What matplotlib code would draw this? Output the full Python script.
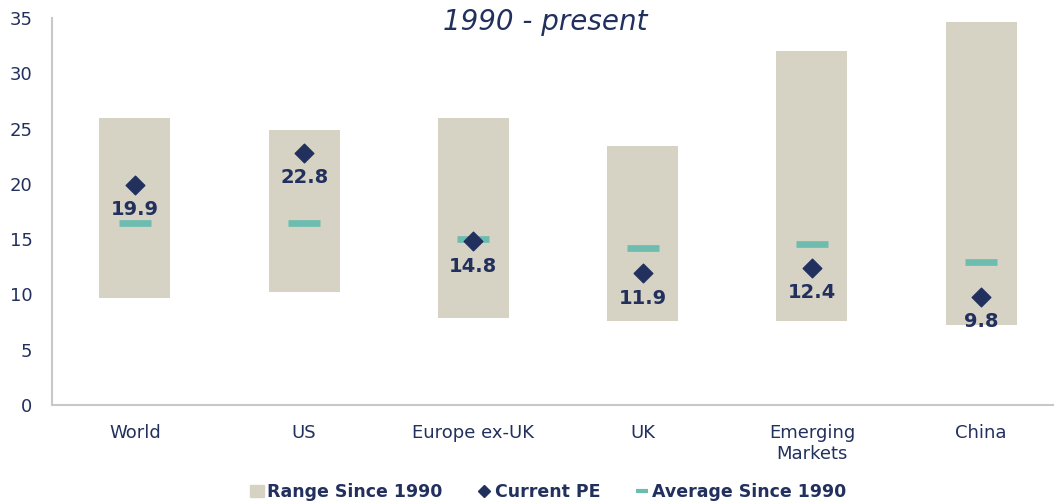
import matplotlib.pyplot as plt
import numpy as np
from matplotlib.lines import Line2D
from matplotlib.patches import Patch

# PE ranges since 1990
regions = ["World", "US", "Europe ex-UK", "UK", "Emerging\nMarkets", "China"]
range_low = [9.7, 10.2, 7.9, 7.6, 7.6, 7.2]
range_high = [26.0, 24.9, 26.0, 23.4, 32.0, 34.6]
current_pe = [19.9, 22.8, 14.8, 11.9, 12.4, 9.8]
average_pe = [16.5, 16.5, 15.0, 14.2, 14.6, 12.9]

navy = "#22305e"
beige = "#d6d3c4"
teal = "#6dbcb0"

plt.rcParams['font.family'] = ['DejaVu Sans']

fig = plt.figure(figsize=(10.54, 5.03), dpi=100)
ax = fig.add_axes([0.0493, 0.1948, 0.9507, 0.7694])

x = np.arange(len(regions))
heights = np.array(range_high) - np.array(range_low)
ax.bar(x, heights, bottom=range_low, width=0.42, color=beige, zorder=1)
ax.scatter(x, current_pe, marker="D", s=90, color=navy, zorder=3)
ax.scatter(x, average_pe, marker="_", s=530, linewidths=4.8, color=teal, zorder=2)

for xi, v in zip(x, current_pe):
    ax.annotate(f"{v:.1f}", (xi, v), xytext=(0, -18), textcoords="offset points",
                ha="center", va="center", fontsize=14, fontweight="bold", color=navy)

ax.set_xlim(-0.49, 5.43)
ax.set_ylim(0, 35)
ax.set_yticks(range(0, 36, 5))
ax.set_xticks(x)
ax.set_xticklabels(regions)
ax.tick_params(axis="both", length=0, labelsize=13, colors=navy)
ax.tick_params(axis="y", pad=14)
ax.tick_params(axis="x", pad=14)
for s in ["top", "right"]:
    ax.spines[s].set_visible(False)
for s in ["left", "bottom"]:
    ax.spines[s].set_color("#c8c8c8")
    ax.spines[s].set_linewidth(1.5)

fig.text(0.517, 0.956, "1990 - present", ha="center", va="center",
         fontsize=20, style="italic", color=navy)

handles = [Patch(color=beige),
           Line2D([], [], marker="D", color=navy, linestyle="none", markersize=6),
           Line2D([], [], marker="_", color=teal, linestyle="none", markersize=9, markeredgewidth=3)]
leg = fig.legend(handles, ["Range Since 1990", "Current PE", "Average Since 1990"],
                 loc="center", bbox_to_anchor=(0.52, 0.022), ncol=3, frameon=False,
                 handlelength=0.8, handletextpad=0.2, columnspacing=2.0,
                 prop={"weight": "bold", "size": 12.5})
for t in leg.get_texts():
    t.set_color(navy)

fig.savefig("out.png", dpi=100)
